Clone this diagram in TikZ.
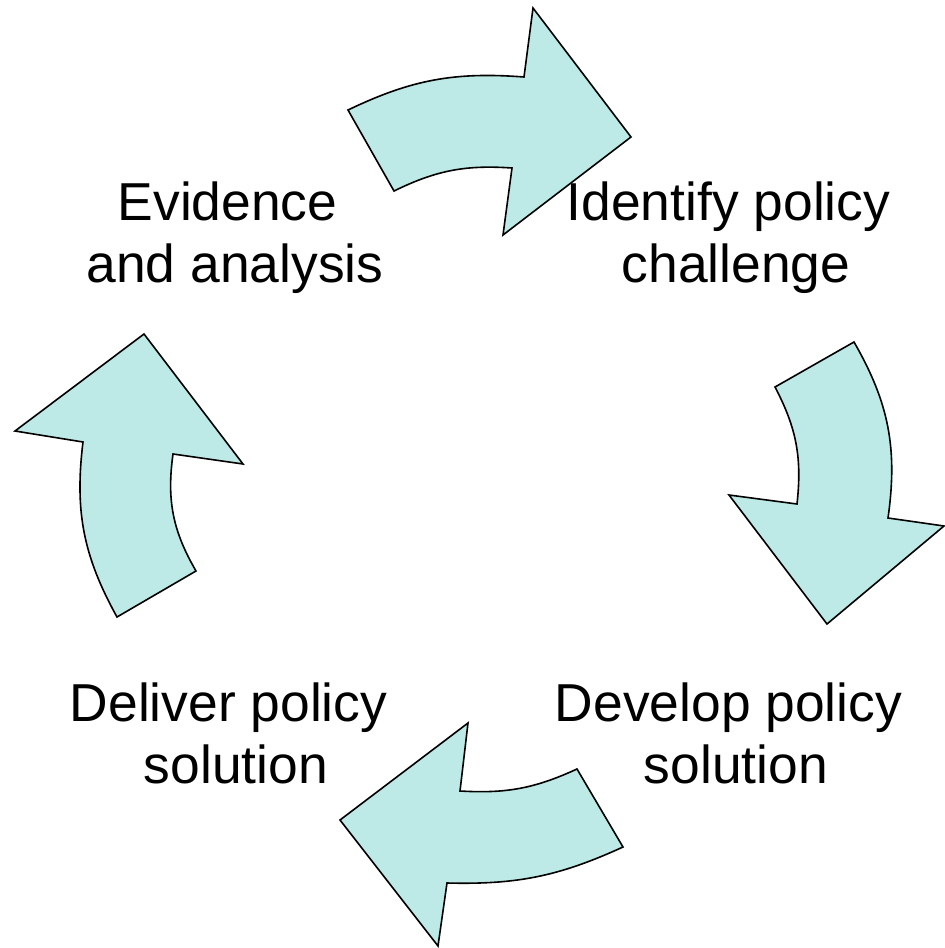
\documentclass[tikz,border=0pt]{standalone}
\usepackage{fontspec}
\setmainfont{Liberation Sans}
\usetikzlibrary{positioning}
\definecolor{arrowfill}{RGB}{189,234,230}

\begin{document}
\begin{tikzpicture}[x=0.5pt,y=-0.5pt,
						cyclearrow/.style={draw=black,fill=arrowfill,line width=0.8pt,line join=miter},
						steptext/.style={align=center,inner sep=0pt,font=\fontsize{26.7}{31}\selectfont}]
		\useasboundingbox (0,0) rectangle (945,948);

		\node[steptext]	(evidence)	at (235,238)	{Evidence\hspace*{0.28em}\\and analysis};
		\node[steptext]	(identify)	at (736,238)	{Identify policy\hspace*{0.28em}\\challenge};
		\node[steptext]	(develop)	at (736,733)	{Develop policy\hspace*{0.28em}\\solution};
		\node[steptext]	(deliver)	at (236,733)	{Deliver policy\hspace*{0.28em}\\solution};

		% top arrow
		\draw[cyclearrow] (348,110) to[bend left=15] (524,77) -- (533,8) -- (631,137) -- (503,235)
			-- (512,168) to[bend right=15] (394,191) -- cycle;
		% right arrow
		\draw[cyclearrow] (854,342) -- (775,387) to[bend left=17] (797,504) -- (729,495) -- (827,624)
			-- (944,526) -- (888,518) to[bend right=19] cycle;
		% bottom arrow
		\draw[cyclearrow] (623,847) -- (577,769) to[bend left=14] (460,791) -- (468,723) -- (340,820)
			-- (438,946) -- (447,883) to[bend right=13] cycle;
		% left arrow
		\draw[cyclearrow] (117,617) -- (196,571) to[bend left=19] (173,454) -- (243,464) -- (144,334)
			-- (15,431) -- (83,442) to[bend right=18] cycle;
	\end{tikzpicture}
\end{document}
